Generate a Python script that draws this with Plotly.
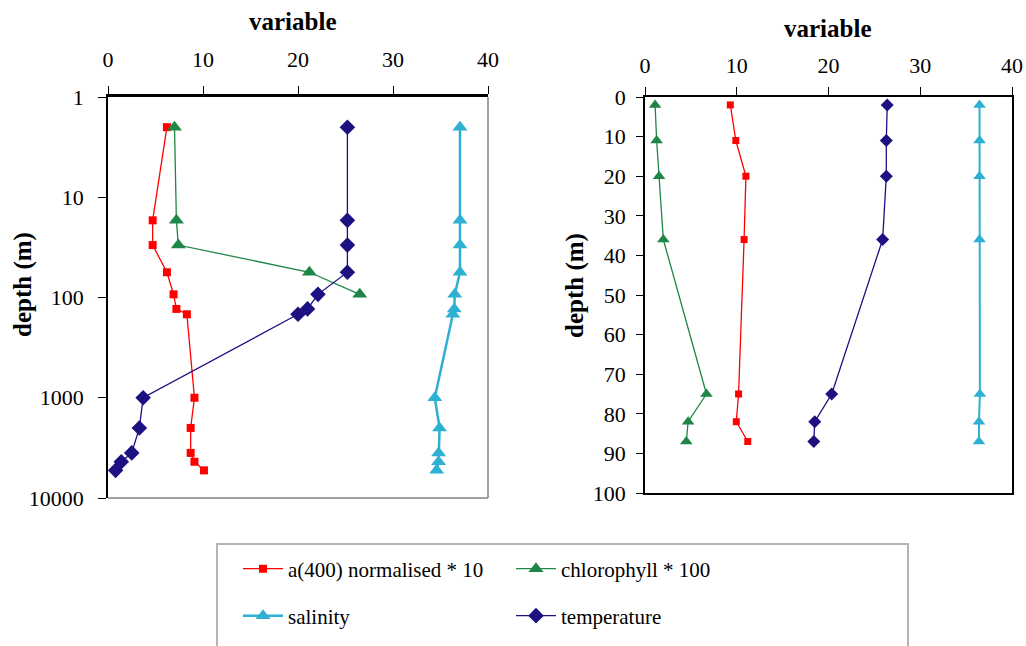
import plotly.graph_objects as go

# ---- deep profile (left panel), depth in metres ----
deep_depth = [2, 17, 30, 56, 93, 130, 147, 1000, 2000, 3550, 4350, 5300]
deep_a400 = [6.2, 4.7, 4.7, 6.2, 6.9, 7.2, 8.3, 9.1, 8.7, 8.7, 9.1, 10.1]
deep_temp = [25.2, 25.2, 25.2, 25.2, 22.1, 21.0, 20.0, 3.7, 3.3, 2.5, 1.4, 0.8]
deep_sal = [37.05, 37.05, 37.05, 37.05, 36.5, 36.45, 36.3, 34.4, 34.9, 34.8, 34.8, 34.6]
deep_chl_depth = [2, 17, 30, 56, 93]
deep_chl = [7.0, 7.2, 7.4, 21.2, 26.5]

# ---- shelf profile (right panel) ----
shelf_depth = [2, 11, 20, 36, 75, 82, 87]
shelf_a400 = [9.3, 9.9, 11.0, 10.8, 10.2, 9.95, 11.2]
shelf_chl = [1.1, 1.27, 1.53, 2.0, 6.7, 4.7, 4.5]
shelf_temp = [26.4, 26.3, 26.3, 25.9, 20.35, 18.5, 18.4]
shelf_sal = [36.46, 36.46, 36.46, 36.46, 36.5, 36.4, 36.4]

x_ticks = [0, 10, 20, 30, 40]
log_ticks = [1, 10, 100, 1000, 10000]
lin_ticks = list(range(0, 101, 10))

names = ["a(400) normalised * 10", "chlorophyll * 100", "salinity", "temperature"]
RED = "#FF0000"
GREEN = "#1E8646"
CYAN = "#2DB0D2"
NAVY = "#1D1182"
FONT = "Liberation Serif"
W, H = 1026, 646

fig = go.Figure()


def add(x, y, name, color, symbol, size, lw, xa, ya, legend, show):
    fig.add_trace(go.Scatter(
        x=x, y=y, name=name, mode="lines+markers",
        line=dict(color=color, width=lw),
        marker=dict(color=color, symbol=symbol, size=size),
        xaxis=xa, yaxis=ya, legend=legend, showlegend=show,
    ))


# left panel
add(deep_a400, deep_depth, names[0], RED, "square", 8, 1.3, "x", "y", "legend", True)
add(deep_chl, deep_chl_depth, names[1], GREEN, "triangle-up", 13, 1.3, "x", "y", "legend", True)
add(deep_sal, deep_depth, names[2], CYAN, "triangle-up", 13, 2.5, "x", "y", "legend2", True)
add(deep_temp, deep_depth, names[3], NAVY, "diamond", 12, 1.3, "x", "y", "legend2", True)
# right panel
add(shelf_a400, shelf_depth, names[0], RED, "square", 7, 1.3, "x2", "y2", "legend", False)
add(shelf_chl, shelf_depth, names[1], GREEN, "triangle-up", 11, 1.3, "x2", "y2", "legend", False)
add(shelf_sal, shelf_depth, names[2], CYAN, "triangle-up", 11, 2.0, "x2", "y2", "legend2", False)
add(shelf_temp, shelf_depth, names[3], NAVY, "diamond", 10, 1.3, "x2", "y2", "legend2", False)

tick_font = dict(family=FONT, size=22, color="black")
title_font = dict(family=FONT, size=25, color="black")
legend_font = dict(family=FONT, size=21, color="black")


def px_x(p):
    return p / W


def px_y(p):
    return 1 - p / H


xcommon = dict(range=[0, 40], tickvals=x_ticks, side="top", ticks="outside",
               ticklen=8, tickcolor="black", showgrid=False, zeroline=False,
               showline=True, linecolor="black", tickfont=tick_font,
               automargin=False)
ycommon = dict(ticks="outside", tickcolor="black", showgrid=False, zeroline=False,
               showline=True, linecolor="black", linewidth=1.5, tickfont=tick_font,
               automargin=False)


def title(text, x, y, angle=0):
    return dict(text="<b>%s</b>" % text, x=px_x(x), y=px_y(y), xref="paper",
                yref="paper", xanchor="center", yanchor="middle", showarrow=False,
                textangle=angle, font=title_font)


fig.update_layout(
    width=W, height=H, autosize=False,
    margin=dict(l=0, r=0, t=0, b=0, autoexpand=False),
    paper_bgcolor="white", plot_bgcolor="white",
    font=dict(family=FONT, color="black"),
    xaxis=dict(xcommon, domain=[px_x(108), px_x(488)], anchor="y", linewidth=2.5,
               ticklabelstandoff=10),
    yaxis=dict(ycommon, type="log", range=[4, 0], tickvals=log_ticks,
               ticktext=[str(v) for v in log_ticks],
               domain=[px_y(498), px_y(97)], anchor="x", ticklen=8,
               ticklabelstandoff=10),
    xaxis2=dict(xcommon, domain=[px_x(645), px_x(1012)], anchor="y2", linewidth=2,
                mirror=True, ticklabelstandoff=5),
    yaxis2=dict(ycommon, range=[100, 0], tickvals=lin_ticks,
                domain=[px_y(493), px_y(97)], anchor="x2", ticklen=7, mirror=True,
                ticklabelstandoff=6),
    legend=dict(orientation="h", x=px_x(238), y=px_y(569), xanchor="left",
                yanchor="middle", entrywidth=218, entrywidthmode="pixels",
                itemwidth=40, font=legend_font,
                bgcolor="rgba(0,0,0,0)", traceorder="normal"),
    legend2=dict(orientation="h", x=px_x(238), y=px_y(616), xanchor="left",
                 yanchor="middle", entrywidth=218, entrywidthmode="pixels",
                 itemwidth=40, font=legend_font,
                 bgcolor="rgba(0,0,0,0)", traceorder="normal"),
    annotations=[
        title("variable", 293, 21),
        title("variable", 828, 28),
        title("depth (m)", 23, 285, -90),
        title("depth (m)", 575, 286, -90),
    ],
    shapes=[
        # gray border of the left plot area (right and bottom sides)
        dict(type="line", xref="paper", yref="paper", x0=px_x(488), x1=px_x(488),
             y0=px_y(498), y1=px_y(97), line=dict(color="#808080", width=1.5)),
        dict(type="line", xref="paper", yref="paper", x0=px_x(108), x1=px_x(488),
             y0=px_y(498), y1=px_y(498), line=dict(color="#808080", width=1.5)),
        # legend frame
        dict(type="rect", xref="paper", yref="paper", x0=px_x(217), x1=px_x(908),
             y0=px_y(660), y1=px_y(544), line=dict(color="#B4B4B4", width=2)),
    ],
)

fig.write_html("out.html")
